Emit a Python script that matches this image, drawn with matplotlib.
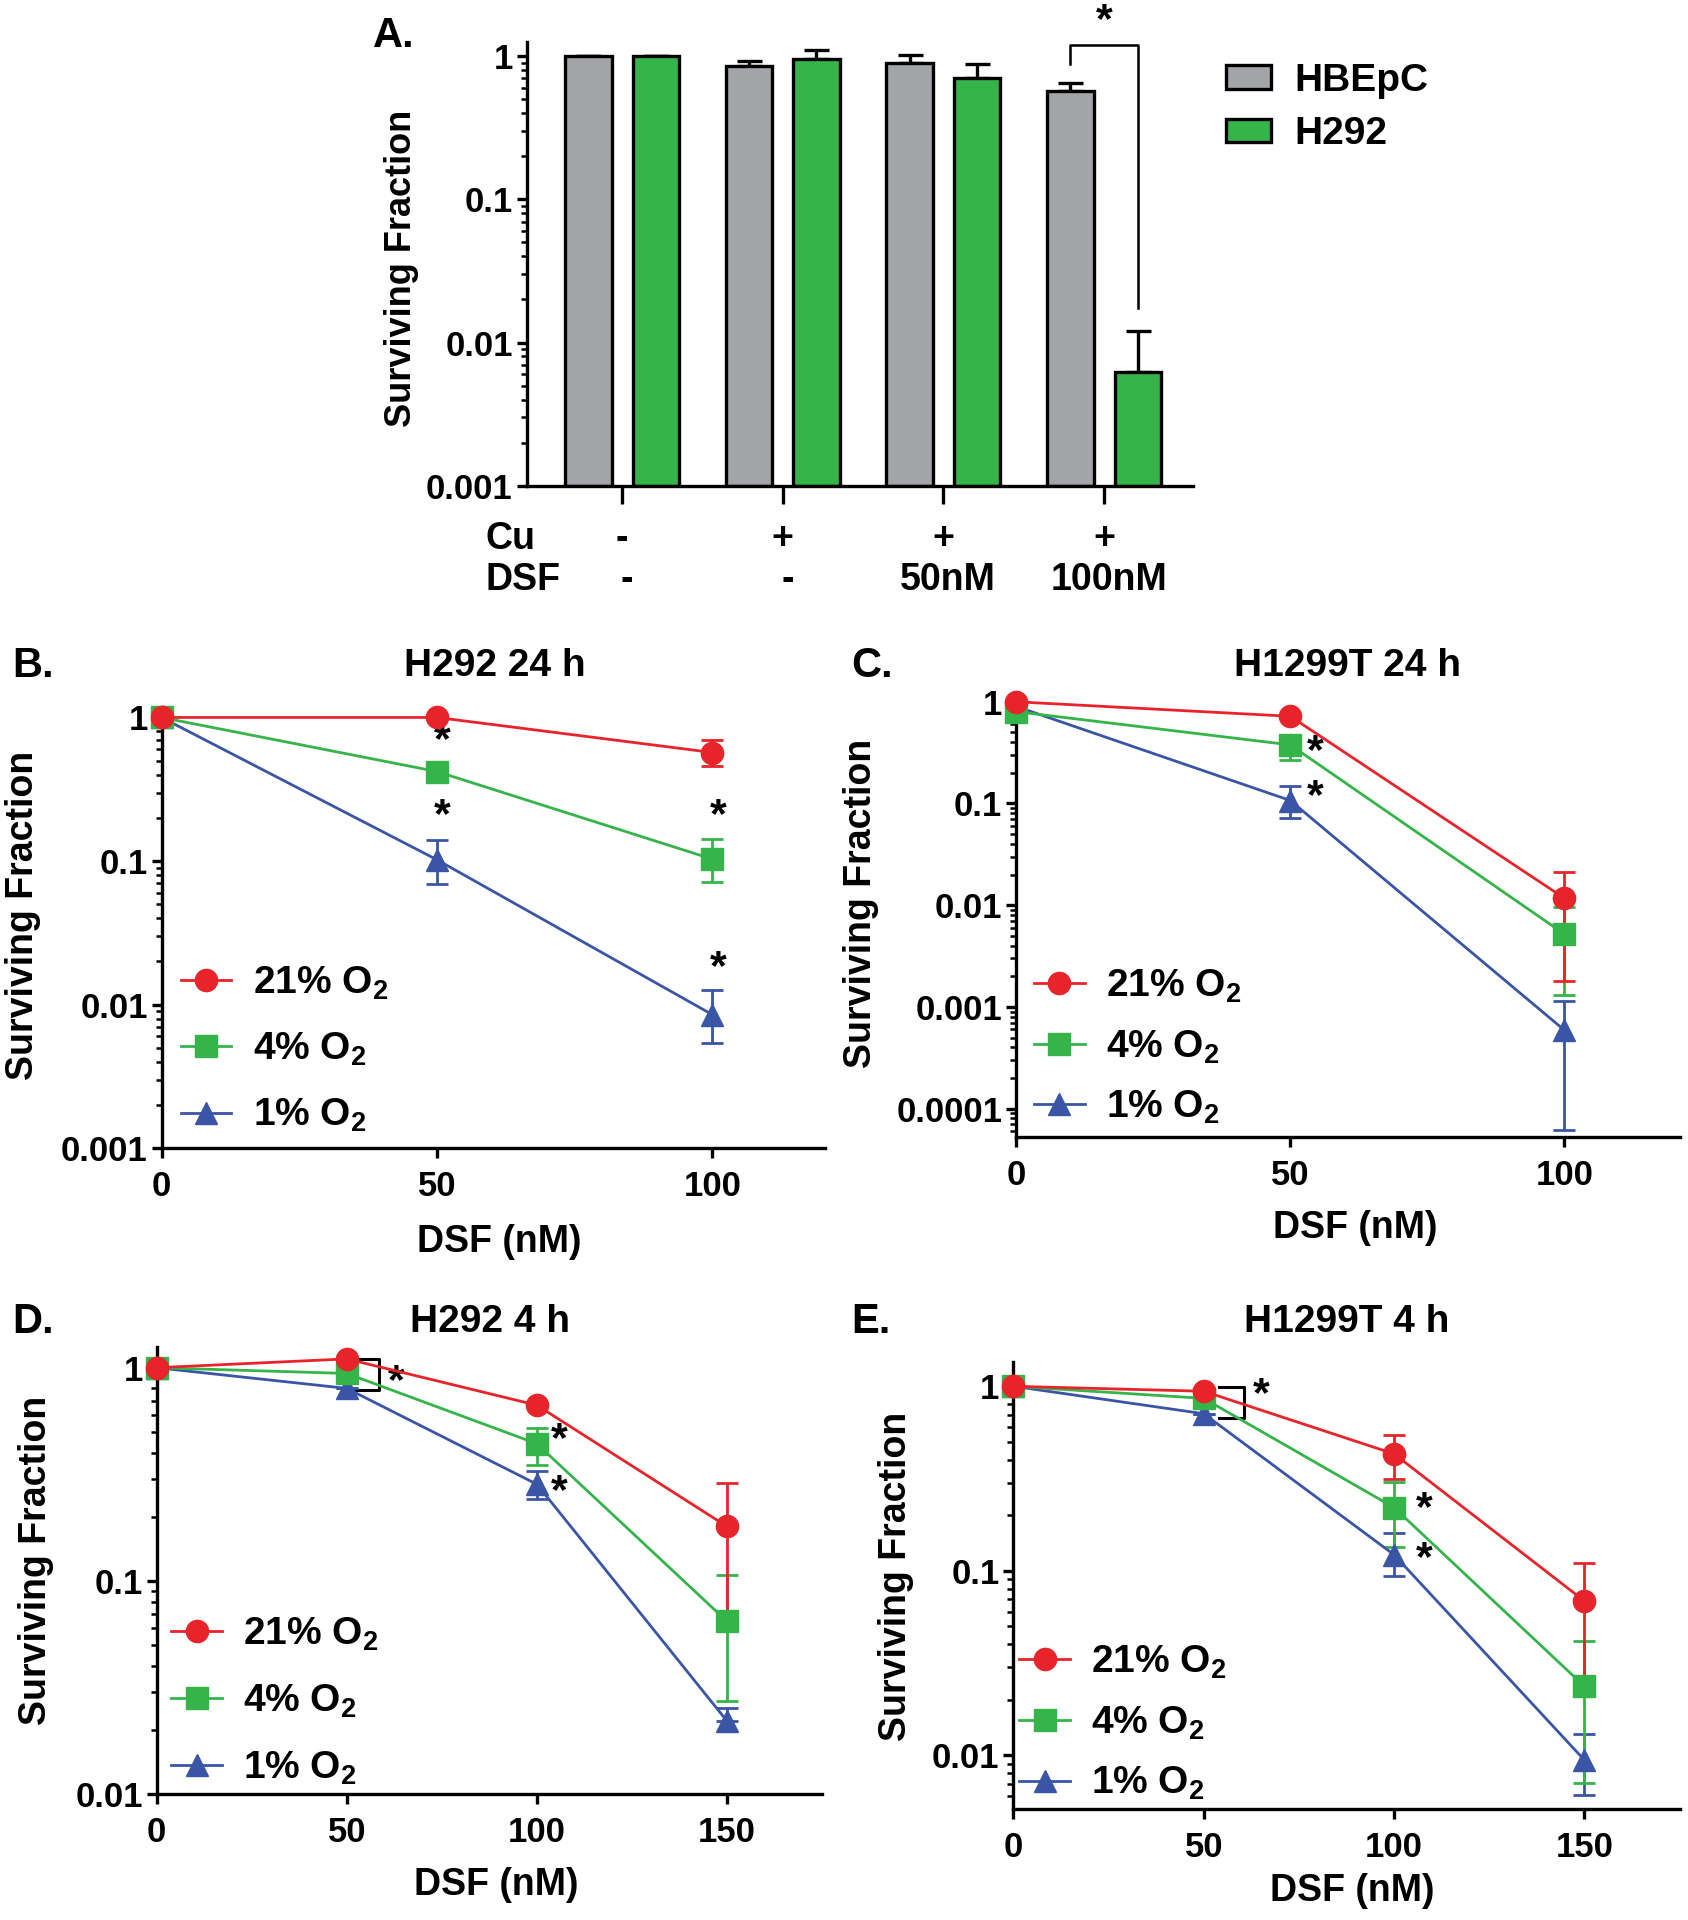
import matplotlib
matplotlib.use('Agg')
import matplotlib.pyplot as plt
import numpy as np
from matplotlib.lines import Line2D
from matplotlib.patches import Patch
from matplotlib.ticker import LogLocator, FuncFormatter, NullFormatter

plt.rcParams['font.family'] = ['Liberation Sans', 'DejaVu Sans']
plt.rcParams['font.weight'] = 'bold'
plt.rcParams['axes.labelweight'] = 'bold'
plt.rcParams['mathtext.fontset'] = 'custom'
plt.rcParams['mathtext.rm'] = 'Liberation Sans:bold'
plt.rcParams['mathtext.default'] = 'rm'
plt.rcParams['axes.linewidth'] = 2.4

RED = '#e8242b'
GREEN = '#35b44a'
BLUE = '#3a55a5'
GRAY = '#a3a4a7'

# ---- panel A data (bars) ----
groups = ['ctrl', 'Cu', 'Cu+DSF50', 'Cu+DSF100']
cu_row = ['-', '+', '+', '+']
dsf_row = ['-', '-', '50nM', '100nM']
hbepc = np.array([1.0, 0.847, 0.90, 0.57])
hbepc_hi = np.array([1.0, 0.93, 1.026, 0.65])
h292 = np.array([1.0, 0.957, 0.70, 0.0062])
h292_hi = np.array([1.0, 1.097, 0.88, 0.0121])

# ---- panel B: H292 24 h ----
b_x = [0, 50, 100]
b21 = [1.0, 1.0, 0.57];    b21_lo = [1.0, 1.0, 0.46];    b21_hi = [1.0, 1.0, 0.70]
b4 = [1.0, 0.42, 0.103];   b4_lo = [1.0, 0.40, 0.071];   b4_hi = [1.0, 0.44, 0.143]
b1 = [1.0, 0.102, 0.0085]; b1_lo = [1.0, 0.069, 0.0054]; b1_hi = [1.0, 0.139, 0.0127]
b_stars = [(51, 0.68), (51, 0.205), (101, 0.205), (101, 0.018)]

# ---- panel C: H1299T 24 h ----
c_x = [0, 50, 100]
c21 = [1.0, 0.72, 0.0117];  c21_lo = [1.0, 0.70, 0.0018];  c21_hi = [1.0, 0.74, 0.021]
c4 = [0.8, 0.377, 0.0052];  c4_lo = [0.8, 0.27, 0.0013];   c4_hi = [0.8, 0.475, 0.0095]
c1 = [0.9, 0.107, 0.00059]; c1_lo = [0.9, 0.072, 0.000062]; c1_hi = [0.9, 0.148, 0.00113]
c_stars = [(54.5, 0.32), (54.5, 0.115)]

# ---- panel D: H292 4 h ----
d_x = [0, 50, 100, 150]
d21 = [1.0, 1.10, 0.667, 0.18]; d21_lo = [1.0, 1.10, 0.667, 0.07];  d21_hi = [1.0, 1.10, 0.667, 0.288]
d4 = [1.0, 0.94, 0.44, 0.0646]; d4_lo = [1.0, 0.94, 0.35, 0.0273];  d4_hi = [1.0, 0.94, 0.524, 0.106]
d1 = [1.0, 0.80, 0.284, 0.022]; d1_lo = [1.0, 0.80, 0.242, 0.022];  d1_hi = [1.0, 0.80, 0.329, 0.0254]
d_stars = [(63, 0.86), (106, 0.46), (106, 0.26)]

# ---- panel E: H1299T 4 h ----
e_x = [0, 50, 100, 150]
e21 = [1.0, 0.94, 0.43, 0.0685]; e21_lo = [1.0, 0.94, 0.314, 0.027]; e21_hi = [1.0, 0.94, 0.544, 0.11]
e4 = [1.0, 0.86, 0.22, 0.0236];  e4_lo = [1.0, 0.86, 0.134, 0.0071]; e4_hi = [1.0, 0.86, 0.303, 0.0414]
e1 = [1.0, 0.71, 0.122, 0.0094]; e1_lo = [1.0, 0.71, 0.094, 0.0061]; e1_hi = [1.0, 0.71, 0.16, 0.013]
e_stars = [(65, 0.90), (108, 0.215), (108, 0.115)]

labels = ['21% O$_2$', '4% O$_2$', '1% O$_2$']
colors = [RED, GREEN, BLUE]
markers = ['o', 's', '^']

fig = plt.figure(figsize=(16.88, 19.2), dpi=100)


def style_log(ax, ymin, ymax):
    ax.set_yscale('log')
    ax.set_ylim(ymin, ymax)
    ax.yaxis.set_major_locator(LogLocator(base=10, numticks=12))
    ax.yaxis.set_minor_locator(LogLocator(base=10, subs=np.arange(2, 10), numticks=12))
    ax.yaxis.set_major_formatter(FuncFormatter(lambda v, p: '%g' % v))
    ax.yaxis.set_minor_formatter(NullFormatter())
    for s in ['top', 'right']:
        ax.spines[s].set_visible(False)
    ax.tick_params(axis='both', which='major', length=7, width=2.4, labelsize=25, pad=3)
    ax.tick_params(axis='x', which='major', pad=9)
    ax.tick_params(axis='y', which='minor', length=4, width=1.8)


def line_panel(ax, x, series, ylim, xmax, xticks, stars, leg_pos, leg_space):
    style_log(ax, *ylim)
    ax.set_xlim(0, xmax)
    ax.set_xticks(xticks)
    ax.xaxis.set_major_formatter(FuncFormatter(lambda v, p: '%d' % v))
    for (vals, lo, hi), color, marker in list(zip(series, colors, markers))[::-1]:
        vals = np.array(vals)
        err = [vals - np.array(lo), np.array(hi) - vals]
        cont = ax.errorbar(x, vals, yerr=err, color=color, marker=marker, ms=16,
                           lw=2, elinewidth=2, capsize=8, capthick=2, zorder=3)
        cont[0].set_clip_on(False)
    for sx, sy in stars:
        ax.text(sx, sy, '*', fontsize=31, ha='center', va='center')
    handles = [Line2D([], [], color=c, marker=m, ms=16, lw=2) for c, m in zip(colors, markers)]
    ax.legend(handles, labels, loc='center left', bbox_to_anchor=leg_pos, frameon=False,
              fontsize=28, handlelength=1.3, handletextpad=0.55, labelspacing=leg_space,
              borderpad=0, borderaxespad=0)
    ax.set_xlabel('DSF (nM)', fontsize=27)
    ax.set_ylabel('Surviving Fraction', fontsize=27)


# ---------------- A ----------------
axA = fig.add_axes([0.312, 0.747, 0.395, 0.231])
style_log(axA, 0.001, 1.25)
pos = np.arange(len(groups))
axA.bar(pos - 0.21, hbepc - 0.001, bottom=0.001, width=0.29, color=GRAY,
        edgecolor='k', linewidth=2.4, zorder=2)
axA.bar(pos + 0.21, h292 - 0.001, bottom=0.001, width=0.29, color=GREEN,
        edgecolor='k', linewidth=2.4, zorder=2)
axA.errorbar(pos - 0.21, hbepc, yerr=[np.zeros(4), hbepc_hi - hbepc], fmt='none',
             ecolor='k', elinewidth=2.4, capsize=9, capthick=2.4, zorder=1)
axA.errorbar(pos + 0.21, h292, yerr=[np.zeros(4), h292_hi - h292], fmt='none',
             ecolor='k', elinewidth=2.4, capsize=9, capthick=2.4, zorder=1)
axA.set_xlim(-0.594, 3.556)
axA.set_xticks(pos)
axA.set_xticklabels([])
axA.tick_params(axis='x', which='major', length=13)
axA.set_ylabel('Surviving Fraction', fontsize=26)
axA.yaxis.set_label_coords(-0.162, 0.49)
# significance bracket
axA.plot([3 - 0.21, 3 - 0.21, 3 + 0.21, 3 + 0.21], [0.88, 1.2, 1.2, 0.0175],
         color='k', lw=1.8, clip_on=False)
axA.text(3, 1.75, '*', fontsize=31, ha='center', va='center')
tr = axA.get_xaxis_transform()
axA.text(-0.853, -0.12, 'Cu', transform=tr, fontsize=27, ha='left', va='center')
axA.text(-0.853, -0.212, 'DSF', transform=tr, fontsize=27, ha='left', va='center')
for p, cu, dsf in zip(pos, cu_row, dsf_row):
    axA.text(p, -0.12, cu, transform=tr, fontsize=27, ha='center', va='center')
    axA.text(p + 0.03, -0.212, dsf, transform=tr, fontsize=27, ha='center', va='center')
fig.legend(handles=[Patch(facecolor=GRAY, edgecolor='k', linewidth=2.4, label='HBEpC'),
                    Patch(facecolor=GREEN, edgecolor='k', linewidth=2.4, label='H292')],
           loc='center left', bbox_to_anchor=(0.7265, 0.944), frameon=False, fontsize=28,
           handlelength=1.16, handleheight=0.55, handletextpad=0.6, labelspacing=0.45,
           borderpad=0, borderaxespad=0)
fig.text(0.221, 0.981, 'A.', fontsize=30, va='center')

# ---------------- B ----------------
axB = fig.add_axes([0.0957, 0.402, 0.3933, 0.2297])
line_panel(axB, b_x, [(b21, b21_lo, b21_hi), (b4, b4_lo, b4_hi), (b1, b1_lo, b1_hi)],
           (0.001, 1.18), 120.5, [0, 50, 100], b_stars, (0.029, 0.224), 0.75)
axB.yaxis.set_label_coords(-0.182, 0.527)
axB.xaxis.set_label_coords(0.508, -0.172)
fig.text(0.007, 0.653, 'B.', fontsize=30, va='center')
fig.text(0.293, 0.653, 'H292 24 h', fontsize=28, ha='center', va='center')

# ---------------- C ----------------
axC = fig.add_axes([0.602, 0.408, 0.393, 0.2297])
line_panel(axC, c_x, [(c21, c21_lo, c21_hi), (c4, c4_lo, c4_hi), (c1, c1_lo, c1_hi)],
           (5.3e-5, 1.15), 121, [0, 50, 100], c_stars, (0.027, 0.203), 0.6)
axC.yaxis.set_label_coords(-0.207, 0.528)
axC.xaxis.set_label_coords(0.511, -0.166)
fig.text(0.504, 0.653, 'C.', fontsize=30, va='center')
fig.text(0.798, 0.653, 'H1299T 24 h', fontsize=28, ha='center', va='center')

# ---------------- D ----------------
axD = fig.add_axes([0.0928, 0.0656, 0.3942, 0.233])
line_panel(axD, d_x, [(d21, d21_lo, d21_hi), (d4, d4_lo, d4_hi), (d1, d1_lo, d1_hi)],
           (0.01, 1.255), 175, [0, 50, 100, 150], d_stars, (0.022, 0.208), 0.76)
axD.plot([52, 58.5, 58.5, 52], [d21[1], d21[1], d1[1] * 0.98, d1[1] * 0.98], color='k', lw=2.2)
axD.yaxis.set_label_coords(-0.155, 0.523)
axD.xaxis.set_label_coords(0.51, -0.163)
fig.text(0.007, 0.3115, 'D.', fontsize=30, va='center')
fig.text(0.29, 0.3115, 'H292 4 h', fontsize=28, ha='center', va='center')

# ---------------- E ----------------
axE = fig.add_axes([0.6004, 0.0578, 0.3946, 0.233])
line_panel(axE, e_x, [(e21, e21_lo, e21_hi), (e4, e4_lo, e4_hi), (e1, e1_lo, e1_hi)],
           (0.0051, 1.36), 175, [0, 50, 100, 150], e_stars, (0.009, 0.192), 0.6)
axE.plot([54, 60.5, 60.5, 54], [e21[1] * 1.06, e21[1] * 1.06, e1[1] * 0.95, e1[1] * 0.95],
         color='k', lw=2.2)
axE.yaxis.set_label_coords(-0.149, 0.52)
axE.xaxis.set_label_coords(0.509, -0.143)
fig.text(0.504, 0.3115, 'E.', fontsize=30, va='center')
fig.text(0.798, 0.3115, 'H1299T 4 h', fontsize=28, ha='center', va='center')

fig.savefig('out.png', dpi=100)
